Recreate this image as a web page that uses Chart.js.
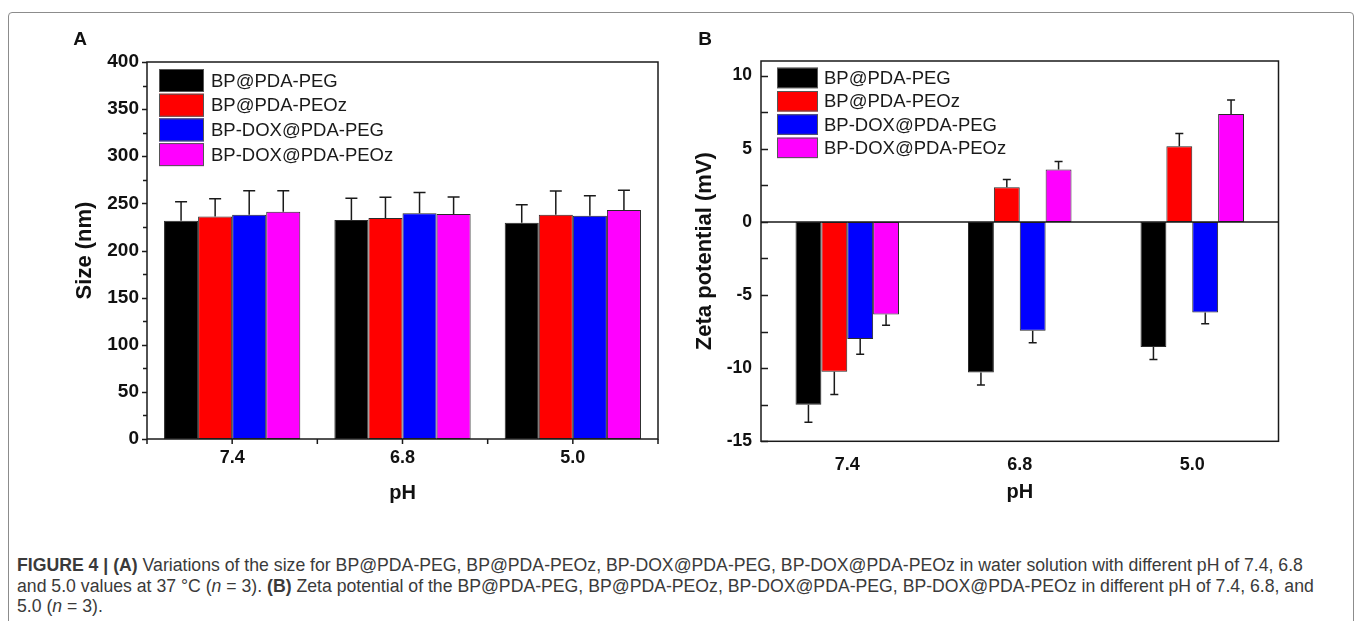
<!DOCTYPE html>
<html>
<head>
<meta charset="utf-8">
<script src="https://cdn.jsdelivr.net/npm/chart.js@4.4.0/dist/chart.umd.min.js"></script>
<style>
  body { margin: 0; background: #fff; width: 1357px; height: 621px; overflow: hidden; position: relative;
         font-family: "Liberation Sans", Arial, sans-serif; }
  #frame { position: absolute; left: 8px; top: 12px; width: 1344px; height: 700px;
           border: 1.5px solid #8c8c8c; border-radius: 4px; }
  .panel { position: absolute; top: 0; }
  #panelA { left: 0; }
  #panelB { left: 680px; }
  .caption { position: absolute; left: 17px; top: 555px; color: #3a3a3a; font-size: 16px;
             line-height: 20.5px; white-space: nowrap; }
  .caption div { width: max-content; }
</style>
</head>
<body>
<div id="frame"></div>
<div class="panel" id="panelA"><canvas id="chartA" width="680" height="540"></canvas></div>
<div class="panel" id="panelB"><canvas id="chartB" width="620" height="540"></canvas></div>
<div class="caption" id="caption">
  <div id="capLine1"><b>FIGURE 4 | (A)</b> Variations of the size for BP@PDA-PEG, BP@PDA-PEOz, BP-DOX@PDA-PEG, BP-DOX@PDA-PEOz in water solution with different pH of 7.4, 6.8</div>
  <div>and 5.0 values at 37 °C (<i>n</i> = 3). <b>(B)</b> Zeta potential of the BP@PDA-PEG, BP@PDA-PEOz, BP-DOX@PDA-PEG, BP-DOX@PDA-PEOz in different pH of 7.4, 6.8, and</div>
  <div>5.0 (<i>n</i> = 3).</div>
</div>
<script>
// categories and series
const phLabels = ["7.4", "6.8", "5.0"];
const seriesNames = ["BP@PDA-PEG", "BP@PDA-PEOz", "BP-DOX@PDA-PEG", "BP-DOX@PDA-PEOz"];
const seriesColors = ["#000000", "#ff0000", "#0000ff", "#ff00ff"];

// (A) size, nm
const sizePEG      = [231.6, 232.4, 229.5];
const sizePEOz     = [236.0, 234.5, 238.0];
const sizeDoxPEG   = [238.0, 239.5, 237.0];
const sizeDoxPEOz  = [241.0, 238.7, 243.0];
const sizeErrPEG     = [20, 23, 19];
const sizeErrPEOz    = [19, 22, 25];
const sizeErrDoxPEG  = [25.5, 22, 21];
const sizeErrDoxPEOz = [22.5, 18, 21];
const sizeTicks = [0, 50, 100, 150, 200, 250, 300, 350, 400];

// (B) zeta potential, mV
const zetaPEG      = [-12.5, -10.3, -8.55];
const zetaPEOz     = [-10.25, 2.37, 5.17];
const zetaDoxPEG   = [-8.0, -7.45, -6.2];
const zetaDoxPEOz  = [-6.33, 3.58, 7.38];
const zetaErrPEG     = [1.2, 0.85, 0.85];
const zetaErrPEOz    = [1.55, 0.53, 0.87];
const zetaErrDoxPEG  = [1.05, 0.82, 0.76];
const zetaErrDoxPEOz = [0.73, 0.55, 0.95];
const zetaTicks = [-15, -10, -5, 0, 5, 10];

const FONT = '"Liberation Sans", Arial, sans-serif';
const INK = "#111111";

// error bars drawn away from zero
const errorBars = {
  id: "errorBars",
  afterDatasetsDraw(chart, args, opts) {
    const ctx = chart.ctx;
    const y = chart.scales.y;
    ctx.save();
    ctx.strokeStyle = "#1a1a1a";
    ctx.lineWidth = 1.5;
    chart.data.datasets.forEach((ds, i) => {
      chart.getDatasetMeta(i).data.forEach((bar, j) => {
        const v = ds.data[j];
        const dir = v < 0 ? -1 : 1;
        const y0 = y.getPixelForValue(v);
        const y1 = y.getPixelForValue(v + dir * ds.errors[j]);
        ctx.beginPath();
        ctx.moveTo(bar.x, y0);
        ctx.lineTo(bar.x, y1);
        ctx.moveTo(bar.x - opts.cap, y1);
        ctx.lineTo(bar.x + opts.cap, y1);
        ctx.stroke();
      });
    });
    ctx.restore();
  }
};

// box frame, tick marks, zero line
const frameTicks = {
  id: "frameTicks",
  afterDraw(chart, args, o) {
    const ctx = chart.ctx;
    const a = chart.chartArea;
    const x = chart.scales.x, y = chart.scales.y;
    ctx.save();
    ctx.strokeStyle = "#1a1a1a";
    ctx.lineWidth = 1.5;
    ctx.strokeRect(a.left, a.top, a.right - a.left, a.bottom - a.top);
    ctx.beginPath();
    if (o.zero) {
      const z = y.getPixelForValue(0);
      ctx.moveTo(a.left, z);
      ctx.lineTo(a.right, z);
    }
    for (let v = y.min; v <= y.max + 1e-9; v += o.minor) {
      const p = Math.round(y.getPixelForValue(v)) + 0.5;
      const isMajor = Math.abs(v / o.major - Math.round(v / o.major)) < 1e-6;
      ctx.moveTo(a.left, p);
      ctx.lineTo(a.left + o.dir * (isMajor ? o.majorLen : o.minorLen), p);
    }
    if (o.xTicks) {
      const step = (a.right - a.left) / phLabels.length;
      for (let i = 0; i <= phLabels.length * 2; i++) {
        const p = a.left + i * step / 2;
        ctx.moveTo(p, a.bottom);
        ctx.lineTo(p, a.bottom + o.majorLen);
      }
    }
    ctx.stroke();
    ctx.restore();
  }
};

// legend inside the plot area
const boxLegend = {
  id: "boxLegend",
  afterDraw(chart, args, o) {
    const ctx = chart.ctx;
    const a = chart.chartArea;
    ctx.save();
    ctx.font = o.size + "px " + FONT;
    ctx.textBaseline = "middle";
    chart.data.datasets.forEach((ds, i) => {
      const top = a.top + o.dy + i * o.step;
      const left = a.left + o.dx;
      ctx.fillStyle = ds.backgroundColor;
      ctx.fillRect(left, top, o.w, o.h);
      ctx.strokeStyle = "#555";
      ctx.lineWidth = 1;
      ctx.strokeRect(left + 0.5, top + 0.5, o.w - 1, o.h - 1);
      ctx.fillStyle = "#1a1a1a";
      ctx.fillText(ds.label, left + o.w + o.gap, top + o.h / 2 + 1);
    });
    ctx.restore();
  }
};

// panel letter
const panelLetter = {
  id: "panelLetter",
  afterDraw(chart, args, o) {
    const ctx = chart.ctx;
    ctx.save();
    ctx.font = "bold 19px " + FONT;
    ctx.fillStyle = INK;
    ctx.textAlign = "center";
    ctx.textBaseline = "middle";
    ctx.fillText(o.text, o.x, o.y);
    ctx.restore();
  }
};

function makeDatasets(values, errors) {
  return seriesNames.map((name, i) => ({
    label: name,
    data: values[i],
    errors: errors[i],
    backgroundColor: seriesColors[i],
    borderColor: "#2a2a2a",
    borderWidth: 1,
    borderSkipped: false
  }));
}

function makeChart(id, cfg) {
  return new Chart(document.getElementById(id), {
    type: "bar",
    data: { labels: phLabels, datasets: makeDatasets(cfg.values, cfg.errors) },
    plugins: [errorBars, frameTicks, boxLegend, panelLetter],
    options: {
      responsive: false,
      animation: false,
      layout: { padding: cfg.padding },
      datasets: { bar: { categoryPercentage: cfg.catPct, barPercentage: 1 } },
      plugins: {
        legend: { display: false },
        tooltip: { enabled: false },
        errorBars: { cap: cfg.cap },
        frameTicks: cfg.ticks,
        boxLegend: cfg.legend,
        panelLetter: cfg.letter
      },
      scales: {
        x: {
          afterFit: s => { s.height = cfg.xHeight; },
          grid: { display: false, drawTicks: false, tickLength: 0 },
          border: { display: false },
          ticks: { color: INK, padding: cfg.xPad, font: { family: FONT, size: 18, weight: "bold" } },
          title: { display: true, text: "pH", color: INK, padding: { top: 0, bottom: 0 },
                   font: { family: FONT, size: 20, weight: "bold" } }
        },
        y: {
          min: cfg.min, max: cfg.max,
          afterBuildTicks: s => { s.ticks = cfg.tickValues.map(v => ({ value: v })); },
          afterFit: s => { s.width = cfg.yWidth; },
          grid: { display: false, drawTicks: false, tickLength: 0 },
          border: { display: false },
          ticks: { color: INK, padding: cfg.yPad, font: { family: FONT, size: cfg.yFont, weight: "bold" } },
          title: { display: true, text: cfg.yTitle, color: INK, padding: { top: cfg.titlePad, bottom: 0 },
                   font: { family: FONT, size: 22, weight: "bold" } }
        }
      }
    }
  });
}

makeChart("chartA", {
  values: [sizePEG, sizePEOz, sizeDoxPEG, sizeDoxPEOz],
  errors: [sizeErrPEG, sizeErrPEOz, sizeErrDoxPEG, sizeErrDoxPEOz],
  min: 0, max: 400, tickValues: sizeTicks,
  padding: { left: 60, top: 62, right: 22, bottom: 35 },
  yWidth: 87, xHeight: 66, xPad: 8, yPad: 8, yFont: 19, titlePad: 12,
  catPct: 0.8, cap: 6,
  yTitle: "Size (nm)",
  ticks: { minor: 25, major: 50, dir: -1, majorLen: 5, minorLen: 4, xTicks: true, zero: false },
  legend: { dx: 12, dy: 7, w: 45, h: 23, step: 24.7, gap: 7, size: 18.5 },
  letter: { text: "A", x: 80, y: 40 }
});

makeChart("chartB", {
  values: [zetaPEG, zetaPEOz, zetaDoxPEG, zetaDoxPEOz],
  errors: [zetaErrPEG, zetaErrPEOz, zetaErrDoxPEG, zetaErrDoxPEOz],
  min: -15, max: 11, tickValues: zetaTicks,
  padding: { left: 0, top: 61, right: 21.5, bottom: 36 },
  yWidth: 81, xHeight: 62.7, xPad: 13, yPad: 9, yFont: 17.5, titlePad: 12,
  catPct: 0.6, cap: 4,
  yTitle: "Zeta potential (mV)",
  ticks: { minor: 2.5, major: 5, dir: 1, majorLen: 7, minorLen: 7, xTicks: false, zero: true },
  legend: { dx: 16, dy: 6.7, w: 41, h: 20.5, step: 23.3, gap: 6, size: 18.5 },
  letter: { text: "B", x: 25, y: 40 }
});

// fit caption width to the reference line length
const cap = document.getElementById("caption");
const line1 = document.getElementById("capLine1");
const w = line1.getBoundingClientRect().width;
cap.style.fontSize = (16 * 1286 / w).toFixed(2) + "px";
</script>
</body>
</html>
